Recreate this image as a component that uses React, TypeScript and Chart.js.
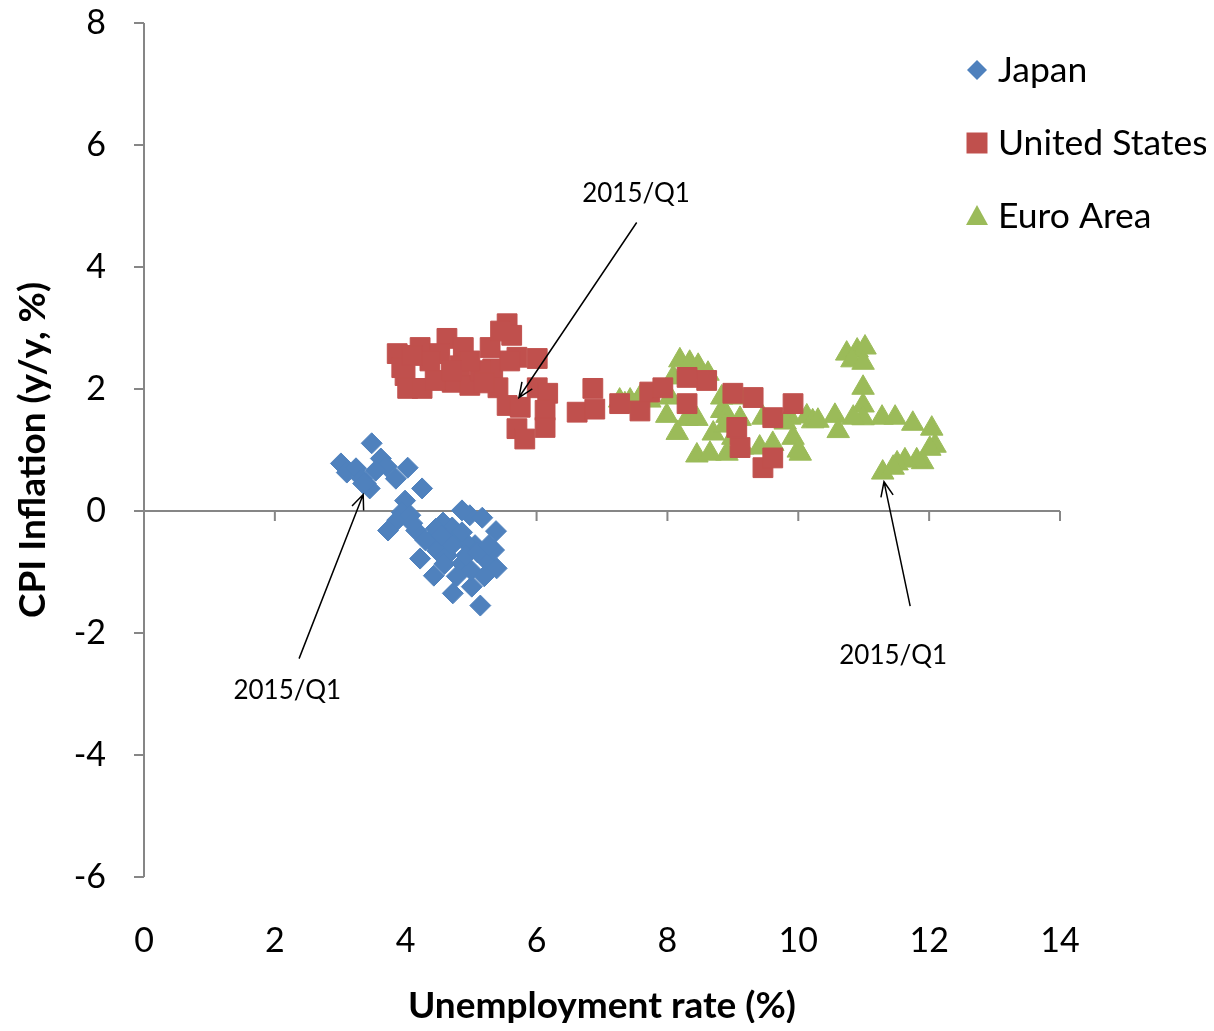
import { useEffect, useRef } from "react";
import { Chart, registerables } from "chart.js";

Chart.register(...registerables);

const seriesNames = ["Japan", "United States", "Euro Area"];
const seriesColors = ["#4F81BD", "#C0504D", "#9BBB59"];

const japanUnemp = [3.01, 3.10, 3.24, 3.33, 3.45, 3.39, 3.48, 3.62, 3.71, 3.54, 3.85, 4.03, 4.25, 3.99, 3.94, 3.87, 3.73, 4.07, 4.16, 4.22, 4.37, 4.48, 4.43, 4.57, 4.71, 4.75, 4.72, 4.86, 5.01, 5.14, 4.98, 4.86, 5.17, 5.38, 5.23, 5.39, 5.35, 5.06, 4.91, 4.63, 5.00, 5.20, 4.78, 4.59, 4.30, 4.46, 4.71, 4.92, 5.10, 5.27, 4.86, 4.10, 4.55, 3.35];
const japanCPI = [0.78, 0.63, 0.70, 0.53, 0.37, 0.45, 1.11, 0.86, 0.73, 0.66, 0.53, 0.71, 0.37, 0.17, -0.02, -0.15, -0.32, -0.07, -0.32, -0.78, -0.48, -0.65, -1.06, -0.19, -0.27, -0.48, -1.35, -0.86, -1.24, -1.55, -0.07, 0.01, -0.11, -0.33, -0.81, -0.94, -0.64, -0.56, -0.51, -0.73, -0.97, -1.07, -1.07, -0.87, -0.48, -0.29, -0.56, -0.73, -0.68, -0.56, -0.35, -0.20, -0.40, 0.45];

const usUnemp = [3.87, 3.99, 4.03, 4.22, 4.25, 4.63, 4.52, 4.71, 4.88, 4.98, 5.29, 5.33, 5.55, 5.62, 5.70, 5.41, 5.55, 5.75, 6.01, 6.01, 6.17, 6.13, 6.13, 5.70, 5.82, 6.62, 3.94, 4.37, 4.83, 5.14, 5.59, 4.45, 4.98, 6.86, 6.89, 7.27, 7.58, 7.73, 7.93, 8.30, 8.60, 8.30, 9.00, 9.31, 9.61, 9.92, 9.46, 9.61, 9.11, 9.06, 5.45, 4.10, 4.70, 5.20];
const usCPI = [2.58, 2.22, 2.01, 2.68, 2.01, 2.83, 2.58, 2.11, 2.68, 2.06, 2.68, 2.33, 3.07, 2.88, 2.52, 2.02, 1.73, 1.70, 2.50, 2.02, 1.93, 1.65, 1.37, 1.35, 1.18, 1.62, 2.35, 2.46, 2.38, 2.30, 2.46, 2.14, 2.46, 2.01, 1.67, 1.76, 1.64, 1.95, 2.02, 2.19, 2.14, 1.76, 1.93, 1.86, 1.53, 1.76, 0.71, 0.87, 1.04, 1.37, 2.95, 2.55, 2.30, 2.10];

const euroUnemp = [7.27, 7.43, 7.58, 7.73, 8.04, 8.09, 8.19, 8.34, 8.47, 8.62, 7.99, 8.15, 8.30, 8.45, 8.45, 8.65, 8.70, 8.83, 8.83, 8.91, 8.88, 9.11, 9.11, 8.91, 9.15, 9.41, 9.46, 9.61, 9.87, 9.92, 10.03, 10.13, 10.22, 10.74, 10.90, 11.02, 10.82, 10.99, 10.99, 10.99, 10.99, 10.84, 10.56, 10.30, 10.61, 11.28, 11.48, 11.75, 12.04, 12.09, 12.01, 11.90, 11.81, 11.63, 11.51, 11.29, 11.45, 10.00, 7.35, 7.50, 9.00, 9.80];
const euroCPI = [1.81, 1.81, 1.86, 1.81, 1.86, 2.19, 2.47, 2.43, 2.38, 2.25, 1.56, 1.28, 1.51, 1.51, 0.91, 0.94, 1.27, 1.86, 1.64, 1.56, 1.40, 1.86, 1.51, 0.94, 1.04, 1.04, 1.53, 1.10, 1.53, 1.20, 0.94, 1.55, 1.47, 2.58, 2.63, 2.68, 2.47, 2.43, 2.02, 1.73, 1.52, 1.53, 1.56, 1.48, 1.31, 1.53, 1.53, 1.43, 1.35, 1.07, 1.02, 0.80, 0.83, 0.83, 0.78, 0.63, 0.71, 0.99, 1.75, 1.72, 1.20, 1.45];

const xTickValues = [0, 2, 4, 6, 8, 10, 12, 14];
const yTickValues = [-6, -4, -2, 0, 2, 4, 6, 8];

const xTitle = "Unemployment rate (%)";
const yTitle = "CPI Inflation (y/y, %)";

// annotation label + arrow (data coords): [labelX, labelY, tailX, tailY, tipX, tipY]
const annotationText = "2015/Q1";
const annotations = [
  [7.52, 5.2, 7.53, 4.73, 5.73, 1.86],
  [2.19, -2.94, 2.37, -2.42, 3.35, 0.27],
  [11.45, -2.37, 11.71, -1.56, 11.31, 0.48],
];

const FONT = "Lato, 'Open Sans', sans-serif";

function pairs(xs: number[], ys: number[]) {
  return xs.map((x, i) => ({ x, y: ys[i] }));
}

const decorPlugin = {
  id: "decor",
  beforeDatasetsDraw(chart: any) {
    const { ctx, scales } = chart;
    const xs = scales.x;
    const ys = scales.y;
    ctx.save();
    ctx.strokeStyle = "#868686";
    ctx.lineWidth = 2;
    const x0 = xs.getPixelForValue(0);
    const y0 = ys.getPixelForValue(0);
    ctx.beginPath();
    ctx.moveTo(x0, ys.getPixelForValue(8));
    ctx.lineTo(x0, ys.getPixelForValue(-6));
    ctx.moveTo(x0, y0);
    ctx.lineTo(xs.getPixelForValue(14), y0);
    for (const v of yTickValues) {
      const p = Math.round(ys.getPixelForValue(v));
      ctx.moveTo(x0 - 10, p);
      ctx.lineTo(x0, p);
    }
    for (const v of xTickValues) {
      const p = xs.getPixelForValue(v);
      ctx.moveTo(p, y0);
      ctx.lineTo(p, y0 + 10);
    }
    ctx.stroke();
    ctx.restore();
  },
  afterDraw(chart: any) {
    const { ctx, scales, chartArea } = chart;
    const xs = scales.x;
    const ys = scales.y;
    ctx.save();
    // annotations
    ctx.fillStyle = "#000";
    ctx.strokeStyle = "#000";
    ctx.lineWidth = 1.5;
    ctx.font = `26px ${FONT}`;
    ctx.textAlign = "center";
    ctx.textBaseline = "middle";
    for (const a of annotations) {
      const lx = xs.getPixelForValue(a[0]);
      const ly = ys.getPixelForValue(a[1]);
      ctx.fillText(annotationText, lx, ly);
      const tx = xs.getPixelForValue(a[2]);
      const ty = ys.getPixelForValue(a[3]);
      const hx = xs.getPixelForValue(a[4]);
      const hy = ys.getPixelForValue(a[5]);
      ctx.beginPath();
      ctx.moveTo(tx, ty);
      ctx.lineTo(hx, hy);
      const ang = Math.atan2(hy - ty, hx - tx);
      const hl = 16;
      const spread = 0.4;
      ctx.moveTo(hx - hl * Math.cos(ang - spread), hy - hl * Math.sin(ang - spread));
      ctx.lineTo(hx, hy);
      ctx.lineTo(hx - hl * Math.cos(ang + spread), hy - hl * Math.sin(ang + spread));
      ctx.stroke();
    }
    // legend
    const lgX = 969;
    const lgY = [62, 135, 208];
    ctx.font = `35.5px ${FONT}`;
    ctx.textAlign = "left";
    ctx.textBaseline = "middle";
    for (let i = 0; i < 3; i++) {
      const cy = lgY[i];
      ctx.fillStyle = seriesColors[i];
      ctx.beginPath();
      if (i === 0) {
        ctx.moveTo(lgX - 10, cy);
        ctx.lineTo(lgX, cy - 10);
        ctx.lineTo(lgX + 10, cy);
        ctx.lineTo(lgX, cy + 10);
      } else if (i === 1) {
        ctx.rect(lgX - 10.5, cy - 10.5, 21, 21);
      } else {
        ctx.moveTo(lgX, cy - 11);
        ctx.lineTo(lgX + 11, cy + 9);
        ctx.lineTo(lgX - 11, cy + 9);
      }
      ctx.closePath();
      ctx.fill();
      ctx.fillStyle = "#000";
      ctx.fillText(seriesNames[i], lgX + 21, cy + 1);
    }
    // axis titles
    ctx.font = `bold 37px ${FONT}`;
    ctx.textAlign = "center";
    ctx.textBaseline = "middle";
    ctx.fillText(xTitle, (chartArea.left + chartArea.right) / 2, 998);
    ctx.translate(25, (chartArea.top + chartArea.bottom) / 2);
    ctx.rotate(-Math.PI / 2);
    ctx.fillText(yTitle, 0, 0);
    ctx.restore();
  },
};

export default function App() {
  const ref = useRef<HTMLCanvasElement | null>(null);
  useEffect(() => {
    if (!ref.current) return;
    const mk = (i: number, data: any[], style: string, r: number) => ({
      label: seriesNames[i],
      data,
      pointStyle: style,
      pointRadius: r,
      pointHoverRadius: r,
      backgroundColor: seriesColors[i],
      borderColor: seriesColors[i],
      borderWidth: 1,
      showLine: false,
    });
    const chart = new Chart(ref.current, {
      type: "scatter",
      data: {
        datasets: [
          mk(0, pairs(japanUnemp, japanCPI), "rectRot", 10.5),
          mk(1, pairs(usUnemp, usCPI), "rect", 14),
          mk(2, pairs(euroUnemp, euroCPI), "triangle", 13),
        ],
      },
      options: {
        responsive: false,
        animation: false,
        devicePixelRatio: 1,
        layout: { padding: { top: 14, right: 146, left: 0, bottom: 0 } },
        plugins: { legend: { display: false }, tooltip: { enabled: false } },
        scales: {
          x: {
            type: "linear",
            min: 0,
            max: 14,
            ticks: { stepSize: 2, color: "#000", font: { family: FONT, size: 34 }, padding: 44 },
            grid: { display: false, drawTicks: false },
            border: { display: false },
            afterFit: (s: any) => { s.height = 154; s.paddingLeft = 0; s.paddingRight = 0; },
          },
          y: {
            type: "linear",
            min: -6,
            max: 8,
            ticks: { stepSize: 2, color: "#000", font: { family: FONT, size: 34 }, padding: 38 },
            grid: { display: false, drawTicks: false },
            border: { display: false },
            afterFit: (s: any) => { s.width = 136; s.paddingTop = 0; s.paddingBottom = 0; },
          },
        },
      },
      plugins: [decorPlugin],
    });
    return () => chart.destroy();
  }, []);
  return (
    <div style={{ width: 1198, height: 1015 }}>
      <canvas ref={ref} width={1198} height={1023} style={{ display: "block" }} />
    </div>
  );
}
